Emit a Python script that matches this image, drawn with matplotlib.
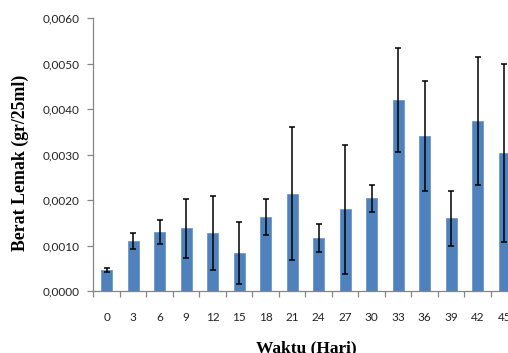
import numpy as np
import matplotlib
matplotlib.use("Agg")
import matplotlib.pyplot as plt
from matplotlib.ticker import FuncFormatter

# data
hari = ['0', '3', '6', '9', '12', '15', '18', '21', '24', '27', '30', '33', '36', '39', '42', '45']
lemak = [0.00046, 0.00110, 0.00130, 0.00138, 0.00128, 0.00084, 0.00163, 0.00214,
         0.00117, 0.00180, 0.00204, 0.00420, 0.00341, 0.00160, 0.00374, 0.00303]
galat = [0.00005, 0.00017, 0.00027, 0.00065, 0.00082, 0.00068, 0.00040, 0.00146,
         0.00031, 0.00142, 0.00030, 0.00115, 0.00120, 0.00060, 0.00141, 0.00196]

fig = plt.figure(figsize=(5.08, 3.53), dpi=100)
ax = fig.add_axes([0.1837, 0.1756, 0.835, 0.7725])

x = np.arange(len(hari))
ax.bar(x, lemak, width=0.42, color='#4F81BD', edgecolor='#6E97C9', linewidth=0.6, zorder=2)
ax.errorbar(x, lemak, yerr=galat, fmt='none', ecolor='black', elinewidth=1.1,
            capsize=2.3, capthick=1.1, zorder=3)

ax.set_xlim(-0.5, len(hari) - 0.5)
ax.set_ylim(0, 0.006)
ax.set_yticks(np.arange(0, 0.0061, 0.001))
ax.yaxis.set_major_formatter(FuncFormatter(lambda v, p: ('%.4f' % v).replace('.', ',')))

ax.set_xticks(x)
ax.set_xticklabels(hari)
ax.set_xticks(np.arange(-0.5, len(hari), 1), minor=True)
ax.tick_params(axis='x', which='major', length=0, pad=15, labelsize=8.5, labelcolor='#222222')
ax.tick_params(axis='x', which='minor', length=4, color='#868686', width=0.9, direction='out')
ax.tick_params(axis='y', length=4, color='#868686', width=0.9, direction='out', pad=6,
               labelsize=8.5, labelcolor='#222222')
for lbl in ax.get_xticklabels() + ax.get_yticklabels():
    lbl.set_family('Lato')

for s in ['top', 'right']:
    ax.spines[s].set_visible(False)
for s in ['left', 'bottom']:
    ax.spines[s].set_color('#868686')
    ax.spines[s].set_linewidth(0.9)

fig.text(0.041, 0.54, 'Berat Lemak (gr/25ml)', rotation=90, ha='center', va='center',
         family='Liberation Serif', weight='bold', fontsize=12.8)
fig.text(0.602, 0.002, 'Waktu (Hari)', ha='center', va='baseline',
         family='Liberation Serif', weight='bold', fontsize=12.5)

fig.savefig('out.png', dpi=100)
